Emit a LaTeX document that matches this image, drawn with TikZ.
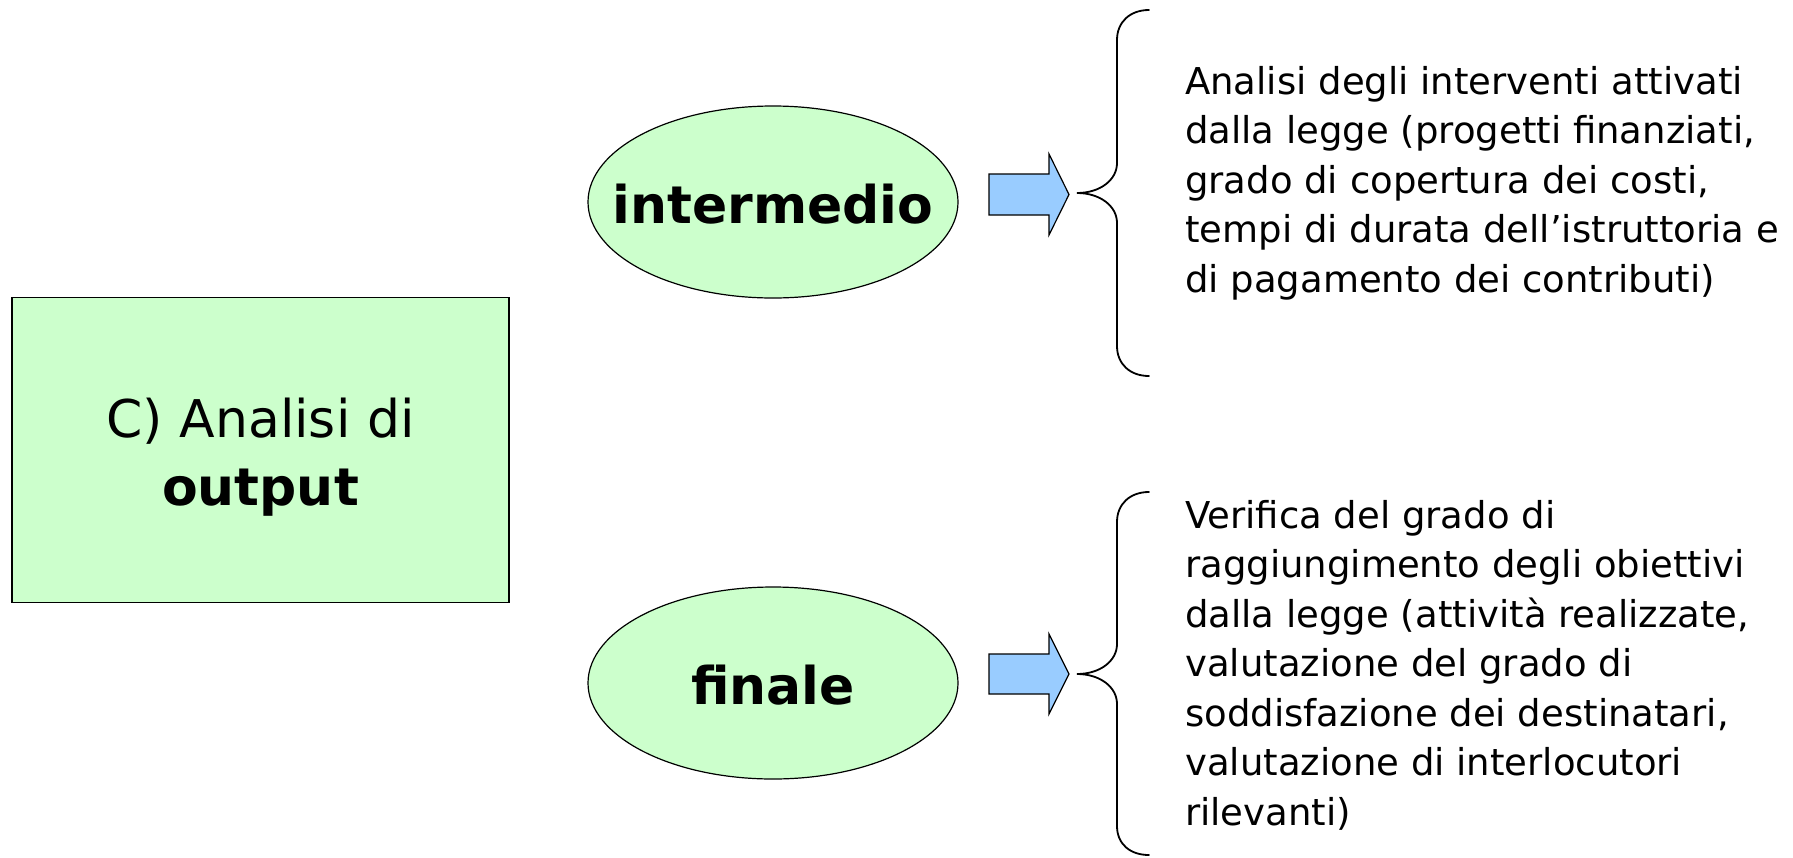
\documentclass[tikz,border=0pt]{standalone}
\usepackage{fontspec}
\setmainfont{DejaVu Sans}
\usetikzlibrary{shapes.geometric}
\definecolor{palegreen}{HTML}{CCFFCC}
\definecolor{paleblue}{HTML}{99CCFF}
\begin{document}
\begin{tikzpicture}[x=1pt,y=-1pt,
  box/.style={draw,fill=palegreen,line width=1.2pt,minimum width=497pt,minimum height=305pt,inner sep=0},
  title/.style={align=center,inner sep=0,font=\fontsize{52}{68}\selectfont},
  oval/.style={ellipse,draw,fill=palegreen,line width=1.2pt,minimum width=370pt,minimum height=192pt,inner sep=0},
  ovaltext/.style={inner sep=0,font=\fontsize{52}{60}\selectfont\bfseries},
  barrow/.style={draw,fill=paleblue,line width=1.2pt,line join=miter},
  brace/.style={line width=1.8pt,line cap=round},
  desc/.style={align=left,inner sep=0,anchor=north west,font=\fontsize{37}{49.5}\selectfont}]
\useasboundingbox (0,0) rectangle (1793,857);
\node[box] (cbox) at (260.5,450) {};
\node[title] (ctext) at ([yshift=-7pt]cbox.center) {C) Analisi di\\\textbf{output}};
\node[oval] (inter) at (773,202) {};
\node[ovaltext] (intertext) at ([yshift=-2pt]inter.center) {intermedio};
\node[oval] (fin) at (773,683) {};
\node[ovaltext] (fintext) at ([yshift=-2pt]fin.center) {finale};
\draw[barrow] (989,174) -- (1049,174) -- (1049,154) -- (1069,194.5) -- (1049,235) -- (1049,215) -- (989,215) -- cycle;
\draw[barrow] (989,654) -- (1049,654) -- (1049,634) -- (1069,674) -- (1049,714) -- (1049,694) -- (989,694) -- cycle;
\draw[brace] (1149,10) .. controls (1130,10) and (1117,22) .. (1117,40) -- (1117,163)
  .. controls (1117,180) and (1100,193) .. (1077,193)
  .. controls (1100,193) and (1117,206) .. (1117,223) -- (1117,346)
  .. controls (1117,364) and (1130,376) .. (1149,376);
\draw[brace] (1149,492) .. controls (1130,492) and (1117,504) .. (1117,522) -- (1117,644)
  .. controls (1117,661) and (1100,674) .. (1077,674)
  .. controls (1100,674) and (1117,687) .. (1117,704) -- (1117,826)
  .. controls (1117,844) and (1130,855) .. (1149,855);
\node[desc] (txtinter) at (1185,66) {Analisi degli interventi attivati\\dalla legge (progetti finanziati,\\grado di copertura dei costi,\\tempi di durata dell’istruttoria e\\di pagamento dei contributi)};
\node[desc] (txtfin) at (1185,500) {Verifica del grado di\\raggiungimento degli obiettivi\\dalla legge (attività realizzate,\\valutazione del grado di\\soddisfazione dei destinatari,\\valutazione di interlocutori\\rilevanti)};
\end{tikzpicture}
\end{document}
